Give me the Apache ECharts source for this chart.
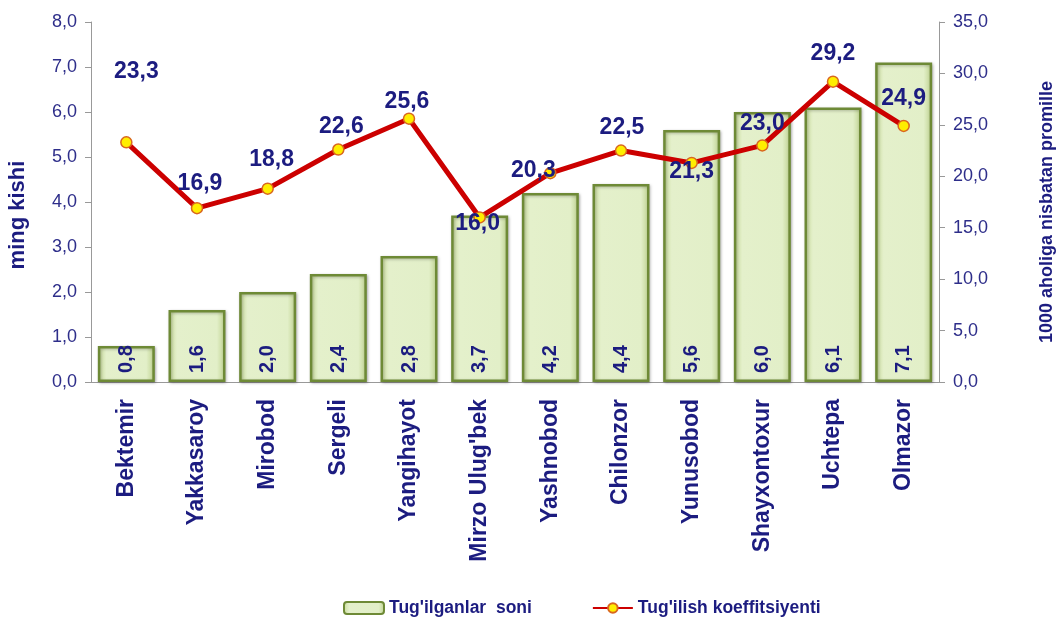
<!DOCTYPE html>
<html>
<head>
<meta charset="utf-8">
<script src="https://cdn.jsdelivr.net/npm/echarts@6/dist/echarts.min.js"></script>
<style>html,body{margin:0;padding:0;background:#fff}#chart{width:1061px;height:618px}</style>
</head>
<body>
<div id="chart"></div>
<script>
var districts = ['Bektemir', 'Yakkasaroy', 'Mirobod', 'Sergeli', 'Yangihayot', "Mirzo Ulug'bek",
  'Yashnobod', 'Chilonzor', 'Yunusobod', 'Shayxontoxur', 'Uchtepa', 'Olmazor'];
var births = [0.8, 1.6, 2.0, 2.4, 2.8, 3.7, 4.2, 4.4, 5.6, 6.0, 6.1, 7.1];
var birthRate = [23.3, 16.9, 18.8, 22.6, 25.6, 16.0, 20.3, 22.5, 21.3, 23.0, 29.2, 24.9];

var navy = '#1c1c80';
var font = 'Liberation Sans, Arial';
function comma(v) { return Number(v).toFixed(1).replace('.', ','); }

// where each line label sits relative to its point (px), as in the original
var labelShift = [[10, -71], [3, -25], [4, -29], [3, -23], [-2, -17], [-2, 6],
  [-17, -3], [1, -23], [0, 9], [0, -22], [0, -28], [0, -27]];

var chart = echarts.init(document.getElementById('chart'));

var option = {
  animation: false,
  grid: { left: 91, right: 122, top: 22, bottom: 236, outerBoundsMode: 'none' },
  legend: {
    top: 594,
    left: 338,
    itemGap: 60,
    itemWidth: 40,
    itemHeight: 12,
    textStyle: { color: navy, fontFamily: font, fontWeight: 'bold', fontSize: 17.5 },
    data: ["Tug'ilganlar  soni", "Tug'ilish koeffitsiyenti"]
  },
  xAxis: {
    type: 'category',
    data: districts,
    axisLine: { lineStyle: { color: '#999' } },
    axisTick: { length: 6, lineStyle: { color: '#999' } },
    axisLabel: {
      rotate: 90,
      interval: 0,
      margin: 17,
      color: navy,
      fontFamily: font,
      fontWeight: 'bold',
      fontSize: 23
    }
  },
  yAxis: [{
    type: 'value',
    min: 0, max: 8, interval: 1,
    name: 'ming kishi',
    nameLocation: 'middle',
    nameGap: 62,
    nameTextStyle: { color: navy, fontFamily: font, fontWeight: 'bold', fontSize: 22, padding: [0, 26, 0, 0] },
    axisLine: { show: true, lineStyle: { color: '#999' } },
    axisTick: { show: true, length: 6, lineStyle: { color: '#999' } },
    splitLine: { show: false },
    axisLabel: { color: '#2e2e8a', fontFamily: font, fontSize: 18, margin: 14, formatter: comma }
  }, {
    type: 'value',
    min: 0, max: 35, interval: 5,
    name: '1000 aholiga nisbatan promille',
    nameLocation: 'middle',
    nameGap: 99,
    nameRotate: 90,
    nameTextStyle: { color: navy, fontFamily: font, fontWeight: 'bold', fontSize: 18, padding: [0, 20, 0, 0] },
    axisLine: { show: true, lineStyle: { color: '#999' } },
    axisTick: { show: true, length: 6, lineStyle: { color: '#999' } },
    splitLine: { show: false },
    axisLabel: { color: '#2e2e8a', fontFamily: font, fontSize: 18, margin: 14, formatter: comma }
  }],
  series: [{
    name: "Tug'ilganlar  soni",
    type: 'bar',
    yAxisIndex: 0,
    barWidth: 57,
    data: births,
    itemStyle: {
      color: new echarts.graphic.LinearGradient(0, 0, 1, 0, [
        { offset: 0, color: '#c8db9a' },
        { offset: 0.15, color: '#e4f0cb' },
        { offset: 0.85, color: '#e2efc8' },
        { offset: 1, color: '#bcd08c' }
      ]),
      borderColor: '#6e8a36',
      borderWidth: 2.5,
      shadowColor: 'rgba(0,0,0,0.25)',
      shadowBlur: 3,
      shadowOffsetX: 1,
      shadowOffsetY: 1
    },
    label: {
      show: true,
      position: 'insideBottom',
      rotate: 90,
      align: 'left',
      verticalAlign: 'middle',
      distance: 9,
      color: navy,
      fontFamily: font,
      fontWeight: 'bold',
      fontSize: 20,
      formatter: function (p) { return comma(p.value); }
    }
  }, {
    name: "Tug'ilish koeffitsiyenti",
    type: 'line',
    yAxisIndex: 1,
    symbol: 'circle',
    symbolSize: 11,
    lineStyle: { color: '#cc0000', width: 5 },
    itemStyle: { color: '#ffee00', borderColor: '#d9661e', borderWidth: 1.5 },
    data: birthRate.map(function (v, i) {
      return { value: v, label: { offset: labelShift[i] } };
    }),
    label: {
      show: true,
      position: 'inside',
      color: navy,
      fontFamily: font,
      fontWeight: 'bold',
      fontSize: 23,
      formatter: function (p) { return comma(p.value); }
    }
  }]
};

chart.setOption(option);
</script>
</body>
</html>
